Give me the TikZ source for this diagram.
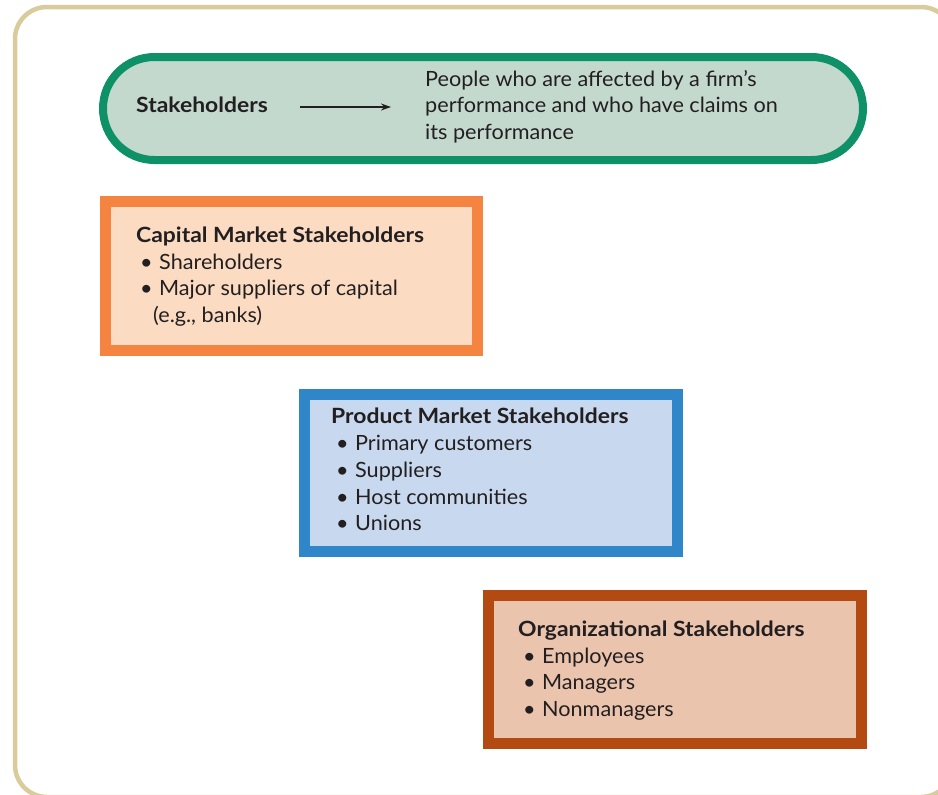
\documentclass[tikz,border=0pt]{standalone}
\usepackage{fontspec}
\setmainfont{Lato}[FakeStretch=1.03]
\newfontfamily\ttlfont{Lato}[FakeStretch=1.09]
\usetikzlibrary{arrows.meta}
\definecolor{frametan}{HTML}{D9CB9C}
\definecolor{greenbd}{HTML}{0E9167}
\definecolor{greenfl}{HTML}{C3D9CD}
\definecolor{orangebd}{HTML}{F4843F}
\definecolor{orangefl}{HTML}{FBDCC2}
\definecolor{bluebd}{HTML}{2F87C9}
\definecolor{bluefl}{HTML}{C8D9EF}
\definecolor{rustbd}{HTML}{B34A12}
\definecolor{rustfl}{HTML}{EBC4AE}
\definecolor{ink}{HTML}{231F20}
\tikzset{
  txt/.style={anchor=base west, inner sep=0pt, text=ink, font=\fontsize{21}{25}\selectfont},
  ttl/.style={txt, font=\fontsize{21}{25}\ttlfont\bfseries},
  bul/.style={txt},
  catbox/.style={rectangle, draw, line width=11pt, inner sep=0pt},
}
\newcommand{\bitem}[1]{\makebox[19pt][l]{•}#1}
\begin{document}
\begin{tikzpicture}[x=1pt,y=-1pt]
\useasboundingbox (0,0) rectangle (938,795);
% outer frame
\draw[frametan, line width=4.5pt, rounded corners=32pt] (15,7) rectangle (953,797);

% definition pill
\node (pill) [draw=greenbd, fill=greenfl, line width=8pt, rounded corners=51.5pt,
  minimum width=760pt, minimum height=103pt, inner sep=0pt] at (483,108.5) {};
\node (stk) [ttl] at (136,112) {Stakeholders};
\coordinate (arrS) at (300,107);
\coordinate (arrE) at (391,107);
\draw[ink, line width=1.3pt, -{Stealth[length=10pt,width=7pt]}] (arrS) -- (arrE);
\node (d1) [txt] at (425,86) {People who are affected by a firm’s};
\node (d2) [txt] at (425,112) {performance and who have claims on};
\node (d3) [txt] at (425,139) {its performance};

% capital market
\node (cap) [catbox, draw=orangebd, fill=orangefl, minimum width=372pt, minimum height=149pt] at (291.5,276) {};
\node (capT) [ttl] at (136,242) {Capital Market Stakeholders};
\node (cap1) [bul] at (140,269) {\bitem{Shareholders}};
\node (cap2) [bul] at (140,295) {\bitem{Major suppliers of capital}};
\node (cap3) [bul] at (153,322) {(e.g., banks)};

% product market
\node (prod) [catbox, draw=bluebd, fill=bluefl, minimum width=373pt, minimum height=157pt] at (491,472.5) {};
\node (prodT) [ttl] at (331,423) {Product Market Stakeholders};
\node (prod1) [bul] at (336,450) {\bitem{Primary customers}};
\node (prod2) [bul] at (336,477) {\bitem{Suppliers}};
\node (prod3) [bul] at (336,504) {\bitem{Host communities}};
\node (prod4) [bul] at (336,530) {\bitem{Unions}};

% organizational
\node (org) [catbox, draw=rustbd, fill=rustfl, minimum width=373pt, minimum height=148pt] at (675,669.5) {};
\node (orgT) [ttl] at (518,636) {Organizational Stakeholders};
\node (org1) [bul] at (523,663) {\bitem{Employees}};
\node (org2) [bul] at (523,689) {\bitem{Managers}};
\node (org3) [bul] at (523,716) {\bitem{Nonmanagers}};
\end{tikzpicture}
\end{document}
